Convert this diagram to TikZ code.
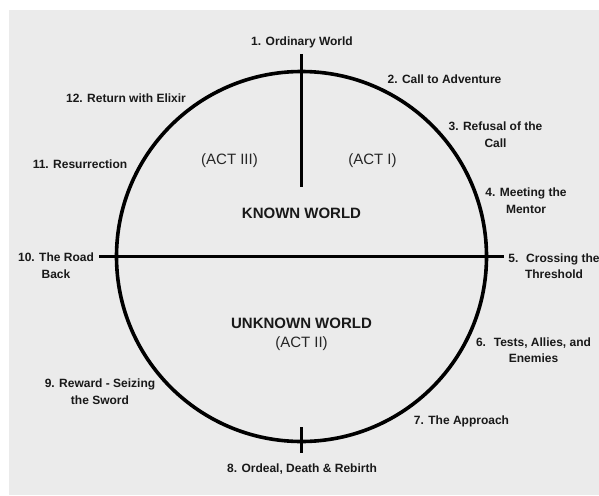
\documentclass[tikz,border=0pt]{standalone}
\usepackage{fontspec}
\setmainfont{Liberation Sans}
\usetikzlibrary{positioning}
\definecolor{panelgray}{RGB}{235,235,235}
\definecolor{actgray}{RGB}{38,38,38}

\begin{document}
\begin{tikzpicture}[
    x=1pt, y=-1pt,
    stage/.style={
      font=\fontsize{12}{16.5}\selectfont\bfseries,
      align=center, inner sep=0pt, text=black!90
    },
    world/.style={font=\fontsize{15}{18}\selectfont\bfseries, inner sep=0pt, text=black!90},
    act/.style={font=\fontsize{15}{18}\selectfont, inner sep=0pt, text=actgray},
    ring/.style={line width=3.6pt},
    divider/.style={line width=3pt},
]
    % Canvas
    \useasboundingbox (0,0) rectangle (599,495);
    \fill[panelgray] (8.5,10) rectangle (599,495);

    % Journey circle
    \coordinate (hub) at (301.5,256.5);
    \draw[ring] (hub) circle[radius=185pt];

    % Dividers
    \coordinate (northtip) at (301.5,54);
    \coordinate (northend) at (301.5,187);
    \coordinate (southtip) at (301.5,427);
    \coordinate (southend) at (301.5,453);
    \coordinate (westend) at (99,256.5);
    \coordinate (eastend) at (504,256.5);
    \draw[divider] (northtip) -- (northend);
    \draw[divider] (southtip) -- (southend);
    \draw[divider] (westend) -- (eastend);

    % Stages round the circle
    \node[stage] (s1) at (302,42) {1. Ordinary World};
    \node[stage] (s2) at (444.5,79) {2. Call to Adventure};
    \node[stage] (s3) at (495.5,134.5) {3. Refusal of the\\Call};
    \node[stage] (s4) at (526,200.5) {4. Meeting the\\Mentor};
    \node[stage] (s5) at (554,266) {5.~ Crossing the\\Threshold};
    \node[stage] (s6) at (533.5,350) {6.~ Tests, Allies, and\\Enemies};
    \node[stage] (s7) at (461.5,421) {7. The Approach};
    \node[stage] (s8) at (302,469) {8. Ordeal, Death \& Rebirth};
    \node[stage] (s9) at (100,391.5) {9. Reward - Seizing\\the Sword};
    \node[stage] (s10) at (56,265.5) {10. The Road\\Back};
    \node[stage] (s11) at (80,164) {11. Resurrection};
    \node[stage] (s12) at (126,98) {12. Return with Elixir};

    % Inside labels
    \node[act] (act3) at (229.5,161) {(ACT III)};
    \node[act] (act1) at (372.5,161) {(ACT I)};
    \node[world] (known) at (301.5,213) {KNOWN WORLD};
    \node[world] (unknown) at (301.5,323) {UNKNOWN WORLD};
    \node[act, below=8pt of unknown] (act2) {(ACT II)};
\end{tikzpicture}
\end{document}
